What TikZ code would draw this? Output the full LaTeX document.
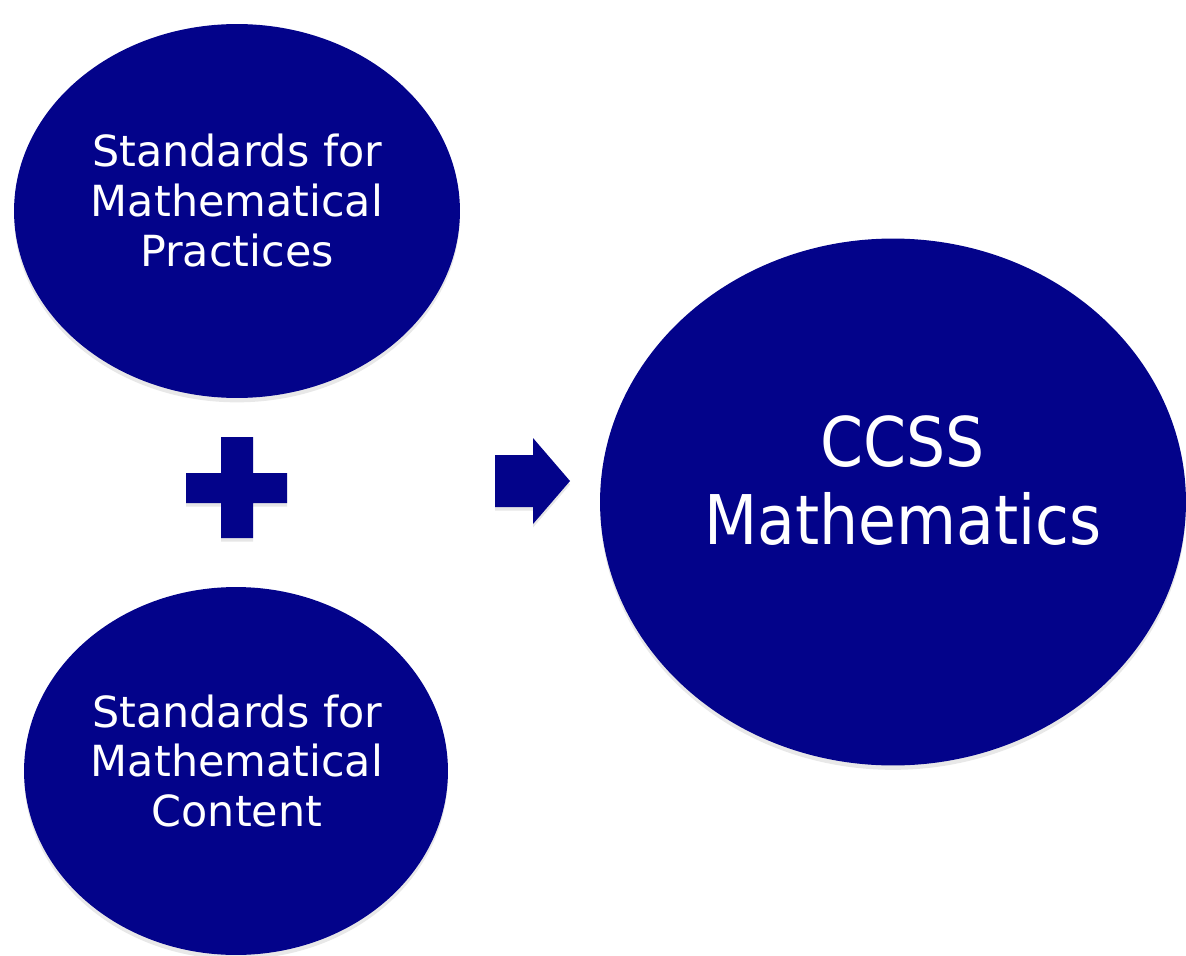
\documentclass[tikz,border=0pt]{standalone}
\usepackage{fontspec}
\setmainfont{DejaVu Sans Condensed}
\newfontfamily\widesans{DejaVu Sans}
\usepackage{tikz}
\usetikzlibrary{shapes.geometric, positioning, shadows}
\definecolor{navyblue}{RGB}{3, 3, 138}

\begin{document}
\begin{tikzpicture}[x=0.02cm, y=-0.02cm]
        \tikzset{
            bubble/.style={ellipse, fill=navyblue, inner sep=0pt,
                drop shadow={opacity=0.18, shadow xshift=0pt, shadow yshift=-2.5pt}},
            bubbletext/.style={text=white, align=center, inner sep=0pt,
                font=\widesans\fontsize{24.4}{28.45}\selectfont},
            blockshape/.style={fill=navyblue, drop shadow={opacity=0.2, shadow xshift=0pt, shadow yshift=-2pt}}
        }
        \useasboundingbox (0,0) rectangle (1186,956);

        % Standards circles
        \node[bubble, minimum width=8.92cm, minimum height=7.48cm] (practices) at (237, 211) {};
        \node[bubbletext] (practiceslabel) at (237, 201) {Standards for\\Mathematical\\Practices};

        \node[bubble, minimum width=8.48cm, minimum height=7.36cm] (content) at (236, 771) {};
        \node[bubbletext] (contentlabel) at (237, 761) {Standards for\\Mathematical\\Content};

        % Result circle
        \node[bubble, minimum width=11.72cm, minimum height=10.54cm] (ccss) at (893, 502) {};
        \node[text=white, align=center, inner sep=0pt, font=\fontsize{39}{44.4}\selectfont] (ccsslabel)
            at (903, 481) {CCSS\\Mathematics};

        % Plus sign
        \fill[blockshape] (221,437) -- (253,437) -- (253,473) -- (287,473) -- (287,503) -- (253,503)
            -- (253,538) -- (221,538) -- (221,503) -- (186,503) -- (186,473) -- (221,473) -- cycle;

        % Block arrow
        \fill[blockshape] (495,455) -- (533,455) -- (533,438) -- (570,481) -- (533,524)
            -- (533,507) -- (495,507) -- cycle;
\end{tikzpicture}
\end{document}
